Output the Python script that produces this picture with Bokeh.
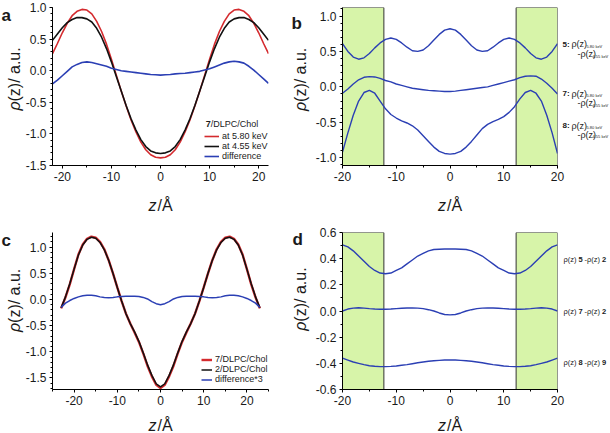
import math

from bokeh.plotting import figure
from bokeh.models import Range1d, SingleIntervalTicker, FixedTicker, PrintfTickFormatter
from bokeh.models import Legend, LegendItem
from bokeh.core.properties import value
from bokeh.layouts import row, column
from bokeh.embed import file_html
from bokeh.resources import INLINE

# ---- data ----
# panel a: 7/DLPC/Chol at two energies and their difference
z_a = list(range(-22, 23))
a_580 = [0.27, 0.43, 0.60, 0.75, 0.87, 0.94, 0.97, 0.96, 0.90, 0.78, 0.62, 0.42, 0.18,
         -0.07, -0.32, -0.56, -0.78, -0.97, -1.13, -1.25, -1.33, -1.37, -1.38, -1.37,
         -1.33, -1.25, -1.13, -0.97, -0.78, -0.56, -0.32, -0.07, 0.18, 0.42, 0.62, 0.78,
         0.90, 0.96, 0.97, 0.94, 0.87, 0.75, 0.60, 0.43, 0.27]
a_455 = [0.48, 0.58, 0.68, 0.76, 0.81, 0.84, 0.84, 0.82, 0.77, 0.67, 0.53, 0.35, 0.14,
         -0.09, -0.32, -0.55, -0.76, -0.94, -1.09, -1.20, -1.27, -1.30, -1.31, -1.30,
         -1.27, -1.20, -1.09, -0.94, -0.76, -0.55, -0.32, -0.09, 0.14, 0.35, 0.53, 0.67,
         0.77, 0.82, 0.84, 0.84, 0.81, 0.76, 0.68, 0.58, 0.48]
a_diff = [-0.21, -0.15, -0.08, -0.01, 0.06, 0.10, 0.13, 0.14, 0.13, 0.11, 0.09, 0.07, 0.04,
          0.02, 0.00, -0.01, -0.02, -0.03, -0.04, -0.05, -0.06, -0.065, -0.07, -0.065,
          -0.06, -0.05, -0.045, -0.04, -0.03, -0.02, -0.01, 0.01, 0.03, 0.06, 0.09, 0.12,
          0.14, 0.15, 0.14, 0.12, 0.07, 0.01, -0.06, -0.13, -0.20]

# panel b: difference profiles of 5, 7, 8
z_b = list(range(-20, 21))
b_5 = [0.61, 0.50, 0.42, 0.39, 0.41, 0.47, 0.55, 0.62, 0.67, 0.69, 0.67, 0.62, 0.56, 0.51,
       0.50, 0.52, 0.58, 0.66, 0.74, 0.80, 0.82, 0.80, 0.74, 0.66, 0.58, 0.52, 0.50, 0.51,
       0.56, 0.62, 0.67, 0.69, 0.67, 0.62, 0.55, 0.47, 0.41, 0.39, 0.42, 0.50, 0.61]
b_7 = [-0.09, -0.03, 0.04, 0.10, 0.135, 0.145, 0.14, 0.12, 0.09, 0.07, 0.04, 0.02, 0.00,
       -0.02, -0.03, -0.04, -0.05, -0.055, -0.06, -0.065, -0.065, -0.06, -0.05, -0.04,
       -0.03, -0.02, -0.01, 0.00, 0.02, 0.04, 0.06, 0.08, 0.10, 0.13, 0.15, 0.155, 0.15,
       0.11, 0.05, -0.02, -0.10]
b_8 = [-0.92, -0.65, -0.40, -0.20, -0.08, -0.05, -0.09, -0.20, -0.31, -0.39, -0.44, -0.48,
       -0.51, -0.55, -0.61, -0.69, -0.77, -0.85, -0.91, -0.94, -0.95, -0.94, -0.91, -0.85,
       -0.77, -0.68, -0.59, -0.53, -0.49, -0.46, -0.42, -0.36, -0.28, -0.17, -0.08, -0.05,
       -0.09, -0.20, -0.40, -0.65, -0.94]

# panel c: 7 vs 2 in DLPC/Chol
z_c = list(range(-23, 24))
c_7 = [-0.17, 0.04, 0.29, 0.58, 0.86, 1.05, 1.16, 1.20, 1.18, 1.10, 0.96, 0.75, 0.50, 0.23,
       -0.03, -0.27, -0.46, -0.63, -0.81, -1.03, -1.27, -1.47, -1.63, -1.69, -1.63, -1.47,
       -1.27, -1.03, -0.81, -0.63, -0.46, -0.27, -0.03, 0.23, 0.50, 0.75, 0.96, 1.10, 1.18,
       1.20, 1.16, 1.05, 0.86, 0.58, 0.29, 0.04, -0.17]
c_2 = [-0.16, 0.05, 0.30, 0.58, 0.85, 1.04, 1.15, 1.19, 1.17, 1.09, 0.95, 0.75, 0.50, 0.23,
       -0.03, -0.27, -0.46, -0.62, -0.80, -1.02, -1.25, -1.45, -1.61, -1.67, -1.61, -1.45,
       -1.25, -1.02, -0.80, -0.62, -0.46, -0.27, -0.03, 0.23, 0.50, 0.75, 0.95, 1.09, 1.17,
       1.19, 1.15, 1.04, 0.85, 0.58, 0.30, 0.05, -0.16]
c_diff3 = [-0.15, -0.07, -0.02, 0.02, 0.05, 0.07, 0.08, 0.08, 0.07, 0.05, 0.04, 0.035, 0.04,
           0.05, 0.055, 0.06, 0.06, 0.06, 0.055, 0.04, 0.01, -0.04, -0.08, -0.10, -0.08,
           -0.04, 0.01, 0.04, 0.055, 0.06, 0.06, 0.06, 0.055, 0.05, 0.04, 0.035, 0.04, 0.05,
           0.07, 0.08, 0.08, 0.07, 0.05, 0.02, -0.02, -0.07, -0.15]

# panel d: differences against the reference compounds
z_d = list(range(-20, 21))
d_52 = [0.505, 0.49, 0.46, 0.42, 0.38, 0.34, 0.31, 0.29, 0.285, 0.29, 0.31, 0.33, 0.36, 0.39,
        0.42, 0.44, 0.46, 0.47, 0.472, 0.474, 0.475, 0.474, 0.472, 0.47, 0.46, 0.44, 0.42,
        0.39, 0.36, 0.33, 0.31, 0.29, 0.285, 0.29, 0.31, 0.34, 0.38, 0.42, 0.46, 0.49, 0.505]
d_72 = [0.00, 0.015, 0.022, 0.025, 0.022, 0.018, 0.015, 0.013, 0.013, 0.015, 0.018, 0.021,
        0.023, 0.024, 0.022, 0.018, 0.01, 0.0, -0.015, -0.027, -0.03, -0.027, -0.015, 0.0,
        0.01, 0.018, 0.022, 0.024, 0.023, 0.021, 0.018, 0.015, 0.013, 0.013, 0.015, 0.018,
        0.022, 0.025, 0.022, 0.015, 0.00]
d_89 = [-0.36, -0.375, -0.39, -0.40, -0.41, -0.418, -0.422, -0.425, -0.425, -0.423, -0.42,
        -0.415, -0.41, -0.403, -0.396, -0.39, -0.384, -0.38, -0.377, -0.375, -0.375, -0.375,
        -0.377, -0.38, -0.384, -0.39, -0.396, -0.403, -0.41, -0.415, -0.42, -0.423, -0.425,
        -0.425, -0.422, -0.418, -0.41, -0.40, -0.39, -0.375, -0.36]
d_ticks = [-0.6, -0.4, -0.2, 0.0, 0.2, 0.4, 0.6]
d_minor = [-0.5, -0.3, -0.1, 0.1, 0.3, 0.5]

# headgroup regions shaded in b and d
shade_from = [-20, 12.3]
shade_to = [-12.3, 20]

FONT = "Liberation Sans"
RED = "#d42a2e"
BLACK = "#111111"
BLUE = "#2b3fb4"
GREEN = "#d7f4a9"
TXT = "#1a1a1a"


def make_panel(width, height, xr, yr, y_ticker, left, right, top, bottom):
    p = figure(width=width, height=height, x_range=Range1d(*xr), y_range=Range1d(*yr),
               output_backend="svg", toolbar_location=None,
               min_border_left=left, min_border_right=right,
               min_border_top=top, min_border_bottom=bottom)
    p.outline_line_color = None
    p.xgrid.visible = False
    p.ygrid.visible = False
    p.xaxis.ticker = SingleIntervalTicker(interval=10, num_minor_ticks=2)
    p.yaxis.ticker = y_ticker
    p.xaxis.formatter = PrintfTickFormatter(format="%d")
    p.yaxis.formatter = PrintfTickFormatter(format="%.1f")
    for ax in p.axis:
        ax.axis_line_color = "black"
        ax.major_tick_line_color = "black"
        ax.minor_tick_line_color = "black"
        ax.major_tick_out = 3
        ax.major_tick_in = 0
        ax.minor_tick_out = 2
        ax.minor_tick_in = 0
        ax.major_label_standoff = 3
        ax.major_label_text_font = FONT
        ax.major_label_text_font_size = "12px"
        ax.major_label_text_color = TXT
    return p


def txt(p, x, y, s, size, dx=0, dy=0, align="left", baseline="middle",
        style="normal", angle=0.0):
    # text drawn on the overlay level so that it may sit outside the frame
    p.text(x=[x], y=[y], text=[s], x_offset=dx, y_offset=dy, angle=angle,
           level="overlay", text_align=align, text_baseline=baseline,
           text_font=value(FONT), text_font_size=f"{size}px",
           text_font_style=style, text_color=TXT)


def axis_titles(p, xr, yr, y_dx, y_bottom, x_dy):
    txt(p, 0, yr[0], "z", 16, dx=-4, dy=x_dy, align="right", baseline="alphabetic",
        style="italic")
    txt(p, 0, yr[0], "/Å", 16, dx=-3, dy=x_dy, baseline="alphabetic")
    txt(p, xr[0], y_bottom, "ρ", 16, dx=y_dx, style="italic", angle=math.pi / 2)
    txt(p, xr[0], y_bottom, "(z)/ a.u.", 16, dx=y_dx, dy=-9, angle=math.pi / 2)


def style_legend(legend, glyph_w, row_h):
    legend.label_text_font = FONT
    legend.label_text_font_size = "9px"
    legend.label_text_color = TXT
    legend.glyph_width = glyph_w
    legend.glyph_height = row_h
    legend.label_height = row_h
    legend.label_standoff = 3
    legend.spacing = 0
    legend.padding = 0
    legend.margin = 0
    legend.border_line_color = None
    legend.background_fill_alpha = 0


# ---- panel a ----
xr_a, yr_a = (-22, 22), (-1.5, 1.0)
pa = make_panel(285, 216, xr_a, yr_a, SingleIntervalTicker(interval=0.5, num_minor_ticks=5),
                52, 17, 7, 51)
ra1 = pa.line(z_a, a_580, line_color=RED, line_width=1.6)
ra2 = pa.line(z_a, a_455, line_color=BLACK, line_width=1.6)
ra3 = pa.line(z_a, a_diff, line_color=BLUE, line_width=1.6)
leg_a = Legend(items=[LegendItem(label="at 5.80 keV", renderers=[ra1]),
                      LegendItem(label="at 4.55 keV", renderers=[ra2]),
                      LegendItem(label="difference", renderers=[ra3])],
               location=(152, 4))
style_legend(leg_a, 15, 10)
pa.add_layout(leg_a)
txt(pa, 9.2, -0.85, "7", 9, style="bold")
txt(pa, 9.2, -0.85, "/DLPC/Chol", 9, dx=5)
axis_titles(pa, xr_a, yr_a, -38, -0.63, 40)
txt(pa, xr_a[0], yr_a[1], "a", 17, dx=-51, dy=8, baseline="alphabetic", style="bold")

# ---- panel b ----
xr_b, yr_b = (-20, 20), (-1.11, 1.12)
pb = make_panel(325, 216, xr_b, yr_b, SingleIntervalTicker(interval=0.5, num_minor_ticks=5),
                57, 53, 6, 51)
pb.quad(left=shade_from, right=shade_to, bottom=yr_b[0], top=yr_b[1],
        fill_color=GREEN, line_color="#333333", line_width=1)
pb.line(z_b, b_5, line_color=BLUE, line_width=1.4)
pb.line(z_b, b_7, line_color=BLUE, line_width=1.4)
pb.line(z_b, b_8, line_color=BLUE, line_width=1.4)
axis_titles(pb, xr_b, yr_b, -42, -0.34, 40)
txt(pb, xr_b[0], yr_b[1], "b", 17, dx=-51, dy=16, baseline="alphabetic", style="bold")
for num, y1, y2 in [("5:", 0.60, 0.46), ("7:", -0.10, -0.23), ("8:", -0.55, -0.675)]:
    txt(pb, xr_b[1], y1, num, 8, dx=5, style="bold")
    txt(pb, xr_b[1], y1, "ρ(z)", 9, dx=14)
    txt(pb, xr_b[1], y1, "5.80 keV", 4, dx=29, dy=2)
    txt(pb, xr_b[1], y2, "-ρ(z)", 9, dx=20)
    txt(pb, xr_b[1], y2, "4.55 keV", 4, dx=35, dy=2)

# ---- panel c ----
xr_c, yr_c = (-25, 25), (-1.72, 1.28)
pc = make_panel(285, 217, xr_c, yr_c, SingleIntervalTicker(interval=0.5, num_minor_ticks=5),
                52, 17, 15, 44)
rc1 = pc.line(z_c, c_7, line_color=RED, line_width=2.4)
rc2 = pc.line(z_c, c_2, line_color=BLACK, line_width=1.5)
rc3 = pc.line(z_c, c_diff3, line_color=BLUE, line_width=1.5)
leg_c = Legend(items=[LegendItem(label="7/DLPC/Chol", renderers=[rc1]),
                      LegendItem(label="2/DLPC/Chol", renderers=[rc2]),
                      LegendItem(label="difference*3", renderers=[rc3])],
               location=(149, 5))
style_legend(leg_c, 11, 9)
pc.add_layout(leg_c)
axis_titles(pc, xr_c, yr_c, -38, -0.62, 36)
txt(pc, xr_c[0], yr_c[1], "c", 17, dx=-51, dy=8, baseline="alphabetic", style="bold")

# ---- panel d ----
xr_d, yr_d = (-20, 20), (-0.6, 0.6)
pd_ = make_panel(325, 217, xr_d, yr_d, FixedTicker(ticks=d_ticks, minor_ticks=d_minor),
                 57, 53, 16, 43)
pd_.quad(left=shade_from, right=shade_to, bottom=yr_d[0], top=yr_d[1],
         fill_color=GREEN, line_color="#333333", line_width=1)
pd_.line(z_d, d_52, line_color=BLUE, line_width=1.4)
pd_.line(z_d, d_72, line_color=BLUE, line_width=1.4)
pd_.line(z_d, d_89, line_color=BLUE, line_width=1.4)
axis_titles(pd_, xr_d, yr_d, -42, -0.15, 36)
txt(pd_, xr_d[0], yr_d[1], "d", 17, dx=-50, dy=7, baseline="alphabetic", style="bold")
for a_, b_, yy in [("5", "2", 0.395), ("7", "2", 0.0), ("8", "9", -0.395)]:
    txt(pd_, xr_d[1], yy, "ρ(z)", 7.5, dx=6)
    txt(pd_, xr_d[1], yy, a_, 7.5, dx=21, style="bold")
    txt(pd_, xr_d[1], yy, "-ρ(z)", 7.5, dx=27)
    txt(pd_, xr_d[1], yy, b_, 7.5, dx=44.5, style="bold")

layout = column(row(pa, pb), row(pc, pd_))
open("out.html", "w").write(file_html(layout, INLINE))
